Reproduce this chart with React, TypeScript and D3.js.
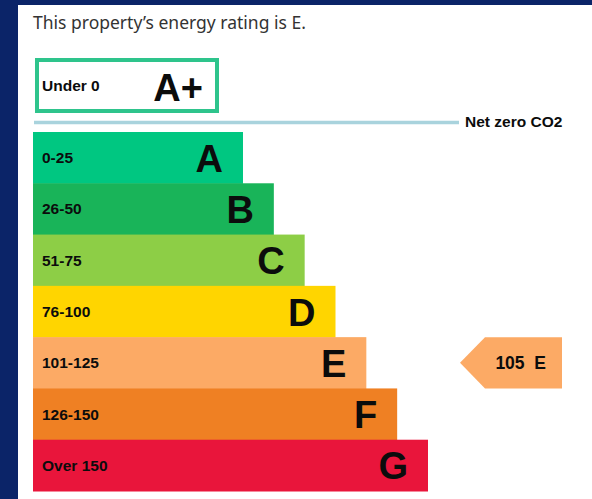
import React from "react";
import { scaleBand, scaleLinear } from "d3";

const letters = ["A", "B", "C", "D", "E", "F", "G"];
const ranges = ["0-25", "26-50", "51-75", "76-100", "101-125", "126-150", "Over 150"];
const colors = ["#00c781", "#19b459", "#8dce46", "#ffd500", "#fcaa65", "#ef8023", "#e9153b"];
const topBand = { range: "Under 0", letter: "A+", color: "#2ec48c" };
const currentScore = 105;
const currentLetter = "E";
const title = "This property\u2019s energy rating is E.";
const netZeroLabel = "Net zero CO2";

const W = 592;
const H = 499;
const BAR_LEFT = 33;
const LABEL_FONT = "'Liberation Sans', Arial, sans-serif";

export default function App() {
  const y = scaleBand<string>().domain(letters).range([132, 491]).paddingInner(0);
  const xEnd = scaleLinear().domain([0, letters.length - 1]).range([243, 428]);
  const curY = y(currentLetter) ?? 0;
  const bh = y.bandwidth();
  const arrowLeft = 460;
  const arrowRight = 562;
  const arrowNeck = 485;

  return (
    <svg
      width={W}
      height={H}
      viewBox={`0 0 ${W} ${H}`}
      style={{ position: "absolute", left: 0, top: 0 }}
    >
      <rect x={0} y={0} width={W} height={H} fill="#0b2468" />
      <rect x={18} y={5} width={W - 18} height={H - 5} fill="#ffffff" />

      <text x={33} y={29} fontFamily="'Noto Sans', 'Open Sans', sans-serif" fontSize={17.5} fill="#333333">
        {title}
      </text>

      {/* A+ box */}
      <rect x={37} y={60} width={180} height={51} fill="#ffffff" stroke={topBand.color} strokeWidth={4} />
      <text x={42} y={91} fontFamily={LABEL_FONT} fontWeight="bold" fontSize={15.5} fill="#0b0c0c">
        {topBand.range}
      </text>
      <text x={203} y={101} textAnchor="end" fontFamily={LABEL_FONT} fontWeight="bold" fontSize={38} fill="#0b0c0c">
        {topBand.letter}
      </text>

      {/* net zero line */}
      <line x1={34} x2={459} y1={122.5} y2={122.5} stroke="#a9d3dd" strokeWidth={3.5} />
      <text x={465} y={127} fontFamily={LABEL_FONT} fontWeight="bold" fontSize={15.5} fill="#0b0c0c">
        {netZeroLabel}
      </text>

      {letters.map((l, i) => {
        const top = y(l) ?? 0;
        const right = xEnd(i);
        return (
          <g key={l}>
            <rect x={BAR_LEFT} y={top} width={right - BAR_LEFT} height={bh + 0.5} fill={colors[i]} />
            <text x={42} y={top + bh / 2 + 5.5} fontFamily={LABEL_FONT} fontWeight="bold" fontSize={15.5} fill="#0b0c0c">
              {ranges[i]}
            </text>
            <text
              x={right - 20}
              y={top + bh / 2 + 14}
              textAnchor="end"
              fontFamily={LABEL_FONT}
              fontWeight="bold"
              fontSize={38}
              fill="#0b0c0c"
            >
              {l}
            </text>
          </g>
        );
      })}

      {/* current rating pointer */}
      <path
        d={`M${arrowLeft},${curY + bh / 2} L${arrowNeck},${curY} L${arrowRight},${curY} L${arrowRight},${curY + bh} L${arrowNeck},${curY + bh} Z`}
        fill={colors[letters.indexOf(currentLetter)]}
      />
      <text x={546} y={curY + bh / 2 + 6} textAnchor="end" fontFamily={LABEL_FONT} fontWeight="bold" fontSize={17.5} fill="#0b0c0c">
        {`${currentScore}\u00a0\u00a0${currentLetter}`}
      </text>
    </svg>
  );
}
